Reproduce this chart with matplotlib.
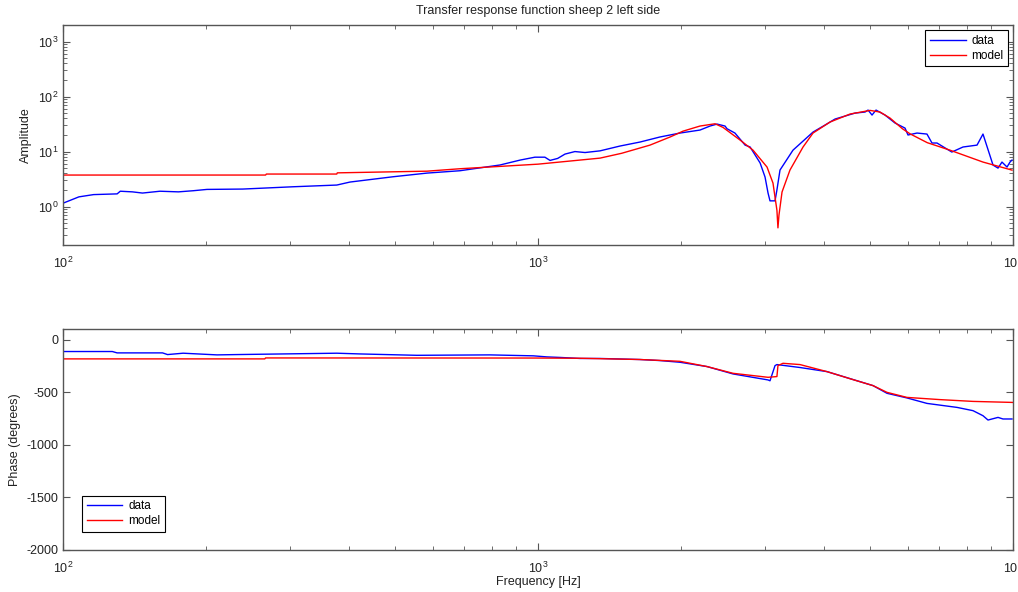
import numpy as np
import matplotlib
matplotlib.use("Agg")
import matplotlib.pyplot as plt

plt.rcParams['font.family'] = ['Liberation Sans', 'DejaVu Sans']
plt.rcParams['axes.unicode_minus'] = False
plt.rcParams['mathtext.fontset'] = 'custom'
plt.rcParams['mathtext.rm'] = 'Liberation Sans'

# amplitude, measured data
amp_f = [100, 108, 116, 130, 132, 140, 147, 160, 175, 188, 201, 239, 305, 377, 402,
         495, 584, 685, 832, 917, 985, 1034, 1060, 1100, 1140, 1196, 1256, 1351,
         1488, 1640, 1806, 1990, 2193, 2302, 2382, 2476, 2500, 2598, 2729, 2796,
         2935, 3006, 3050, 3079, 3155, 3184, 3232, 3442, 3793, 4020, 4220, 4430,
         4650, 4881, 4953, 5049, 5148, 5377, 5645, 5925, 6011, 6280, 6590, 6752,
         6918, 7434, 7848, 8400, 8646, 9077, 9300, 9480, 9714, 9855, 9952]
amp_data = [1.15, 1.5, 1.65, 1.7, 1.9, 1.85, 1.76, 1.9, 1.85, 1.94, 2.05, 2.08, 2.29,
            2.46, 2.79, 3.48, 4.06, 4.48, 5.7, 7.0, 7.9, 7.9, 6.9, 7.5, 9.0, 10.0,
            9.6, 10.3, 12.6, 14.9, 18.4, 21.7, 24.6, 29.1, 31.6, 29.1, 26.0, 21.7,
            13.1, 12.1, 6.2, 3.44, 1.76, 1.27, 1.27, 2.0, 4.61, 10.6, 22.6, 30.3,
            39.0, 44.2, 50.1, 52.3, 56.8, 46.1, 56.8, 46.1, 33.0, 26.7, 20.0, 21.7,
            20.8, 14.3, 14.3, 9.8, 12.1, 13.1, 20.8, 5.68, 5.0, 6.44, 5.23, 6.44, 7.0]

# amplitude, fitted model
mod_f = [100, 267, 268, 377, 378, 584, 685, 1000, 1351, 1500, 1721, 1900, 2020, 2193,
         2359, 2452, 2663, 2836, 3035, 3124, 3184, 3200, 3216, 3264, 3392, 3614,
         3793, 4119, 4539, 5001, 5248, 5510, 5850, 6071, 6600, 7367, 8646, 9952]
amp_model = [3.74, 3.74, 3.9, 3.9, 4.1, 4.4, 4.87, 5.9, 7.6, 9.3, 13.1, 18.5, 23.5,
             29.1, 32.0, 27.5, 16.2, 10.6, 5.23, 2.67, 0.86, 0.41, 0.70, 1.84, 4.61,
             12.1, 21.7, 34.4, 48.1, 56.0, 52.3, 40.6, 26.0, 21.0, 14.5, 10.6, 6.44,
             4.6]

# phase, measured data
ph_f = [100, 127, 130, 162, 166, 179, 211, 232, 377, 422, 556, 792, 978, 1043, 1110,
        1168, 1226, 1351, 1640, 1806, 1990, 2269, 2574, 3050, 3079, 3155, 3184,
        3561, 4059, 5074, 5429, 5981, 6590, 7624, 8238, 8646, 8859, 9300, 9526, 9952]
ph_data = [-114, -114, -127, -127, -143, -130, -146, -143, -130, -137, -150, -146,
           -155, -165, -170, -175, -180, -180, -190, -200, -216, -257, -327, -384,
           -392, -248, -238, -266, -305, -438, -511, -555, -607, -645, -676, -724,
           -765, -740, -755, -755]

# phase, fitted model
phm_f = [100, 266, 267, 1000, 1226, 1640, 1990, 2269, 2574, 3050, 3184, 3200, 3279,
         3561, 4059, 4604, 5074, 5429, 5981, 7022, 8238, 9855, 10000]
ph_model = [-184, -184, -175, -176, -178, -190, -207, -257, -321, -359, -352, -248,
            -226, -238, -305, -381, -438, -502, -550, -571, -588, -597, -598]

W, H = 1018, 592
fig = plt.figure(figsize=(W / 100, H / 100), dpi=100)
ax1 = fig.add_axes([63 / W, 1 - 245 / H, 950 / W, 220 / H])
ax2 = fig.add_axes([63 / W, 1 - 550 / H, 950 / W, 221 / H])

spine_c = '#555555'
text_c = '#222222'
fs = 9


def style(ax):
    for s in ax.spines.values():
        s.set_color(spine_c)
        s.set_linewidth(1.0)
    ax.tick_params(which='both', direction='in', top=True, right=True,
                   colors=spine_c, labelcolor=text_c, labelsize=fs)
    ax.tick_params(which='major', length=5)
    ax.tick_params(which='minor', length=3)
    ax.tick_params(axis='x', which='both', pad=8)


def add_legend(ax, loc, anchor):
    leg = ax.legend(loc=loc, bbox_to_anchor=anchor, borderaxespad=0,
                    fancybox=False, edgecolor='black', framealpha=1, fontsize=8.5,
                    handlelength=3.0, borderpad=0.4, labelspacing=0.25,
                    handletextpad=0.5)
    leg.get_frame().set_linewidth(0.8)


ax1.loglog(amp_f, amp_data, color='#0000ff', lw=1.0, label='data')
ax1.loglog(mod_f, amp_model, color='#ff0000', lw=1.0, label='model')
ax1.set_xlim(100, 10000)
ax1.set_ylim(0.2, 2000)
ax1.set_ylabel('Amplitude', fontsize=fs, color=text_c)
ax1.set_title('Transfer response function sheep 2 left side', fontsize=fs,
              color=text_c, pad=8)
style(ax1)
add_legend(ax1, 'upper right', (0.995, 0.977))

ax2.semilogx(ph_f, ph_data, color='#0000ff', lw=1.0, label='data')
ax2.semilogx(phm_f, ph_model, color='#ff0000', lw=1.0, label='model')
ax2.set_xlim(100, 10000)
ax2.set_ylim(-2000, 100)
ax2.set_yticks([0, -500, -1000, -1500, -2000])
ax2.set_ylabel('Phase (degrees)', fontsize=fs, color=text_c)
ax2.set_xlabel('Frequency [Hz]', fontsize=fs, color=text_c, labelpad=0)
style(ax2)
add_legend(ax2, 'lower left', (0.02, 0.081))

fig.savefig('out.png', dpi=100)
